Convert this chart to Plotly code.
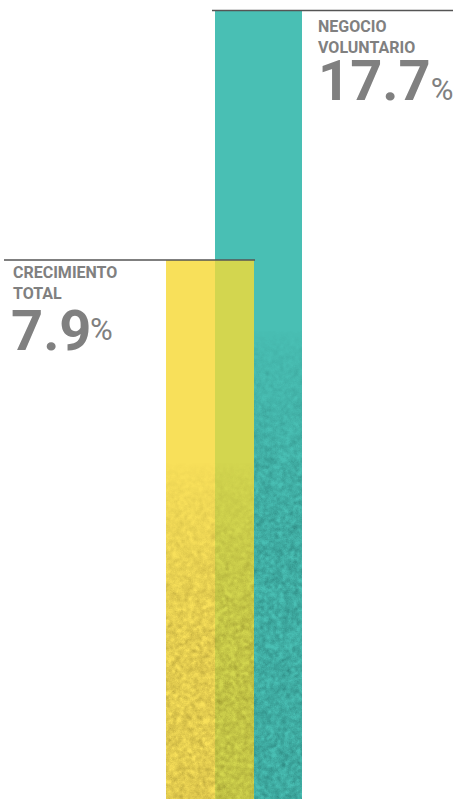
import base64
import struct
import zlib

import numpy as np
import plotly.graph_objects as go

# ---- data ----
categories = ["CRECIMIENTO TOTAL", "NEGOCIO VOLUNTARIO"]
values = [7.9, 17.7]
value_labels = ["7.9", "17.7"]
bar_colors = ["#F8E05A", "#49BFB4"]
overlap_color = "#D3D64F"

W, H = 453, 799

# ---- geometry (pixels) ----
cx = [210.0, 258.5]          # bar centres in px
ppu = cx[1] - cx[0]          # px per category unit
x_lo = -cx[0] / ppu
x_hi = x_lo + W / ppu


def xd(px):
    return x_lo + px / ppu


# y scale: value 17.7 at px 10.5, 7.9 at px 260
py_hi, py_lo = 10.5, 260.0
upp = (values[1] - values[0]) / (py_lo - py_hi)
y_top = values[1] + py_hi * upp
y_bot = values[1] - (H - py_hi) * upp
BASE = y_bot - 1


def val_to_px(v):
    return py_hi + (values[1] - v) / upp


# ---- grain / shade texture (decoration only) ----
def png_uri(arr):
    h, w, _ = arr.shape
    raw = b"".join(b"\x00" + arr[i].tobytes() for i in range(h))

    def chunk(t, d):
        return (struct.pack(">I", len(d)) + t + d +
                struct.pack(">I", zlib.crc32(t + d) & 0xFFFFFFFF))

    png = (b"\x89PNG\r\n\x1a\n" +
           chunk(b"IHDR", struct.pack(">IIBBBBB", w, h, 8, 6, 0, 0, 0)) +
           chunk(b"IDAT", zlib.compress(raw, 9)) + chunk(b"IEND", b""))
    return "data:image/png;base64," + base64.b64encode(png).decode()


rng = np.random.default_rng(7)


def smooth_noise(h, w):
    n = rng.normal(0, 1, (h, w))
    for _ in range(2):
        acc = np.zeros_like(n)
        for dy in (-1, 0, 1):
            for dx in (-1, 0, 1):
                acc += np.roll(np.roll(n, dy, 0), dx, 1)
        n = acc / 9
    fine = rng.normal(0, 1, (h, w))
    n = n / n.std() * 0.8 + fine * 0.35
    return n


def shade(w_px, h_px, top_px, ramp_start, ramp_end, a_max, rgb):
    ys = top_px + np.arange(h_px)
    prof = np.clip((ys - ramp_start) / (ramp_end - ramp_start), 0, 1)
    alpha = a_max * (0.4 * prof + 0.6 * prof ** 0.5)
    n = smooth_noise(h_px, w_px)
    a = alpha[:, None] * (1 + 0.5 * n)
    a = np.clip(a, 0, 1)
    arr = np.zeros((h_px, w_px, 4), dtype=np.uint8)
    arr[..., 0], arr[..., 1], arr[..., 2] = rgb
    arr[..., 3] = (a * 255).astype(np.uint8)
    return png_uri(arr)


fig = go.Figure()

# teal bar (drawn first)
fig.add_trace(go.Bar(
    x=[1], y=[values[1] - BASE], base=BASE,
    width=87 / ppu, marker=dict(color=bar_colors[1], line_width=0),
    hoverinfo="skip", showlegend=False))
# yellow bar
fig.add_trace(go.Bar(
    x=[0], y=[values[0] - BASE], base=BASE,
    width=88 / ppu, marker=dict(color=bar_colors[0], line_width=0),
    hoverinfo="skip", showlegend=False))
# overlap region (yellow over teal)
ov_l, ov_r = 215, 254
fig.add_trace(go.Bar(
    x=[0], y=[values[0] - BASE], base=BASE,
    offset=(ov_l - cx[0]) / ppu, width=(ov_r - ov_l) / ppu,
    marker=dict(color=overlap_color, line_width=0),
    hoverinfo="skip", showlegend=False))

# shading textures over the lower part of the bars
top_px = val_to_px(values[0])
h_img = int(round(H - top_px))
fig.add_layout_image(
    source=shade(88, h_img, top_px, 462, 640, 0.12, (70, 55, 0)),
    xref="x", yref="y", x=xd(166), y=values[0], sizex=88 / ppu,
    sizey=values[0] - y_bot, xanchor="left", yanchor="top",
    sizing="stretch", layer="above")
fig.add_layout_image(
    source=shade(48, h_img, top_px, 330, 520, 0.13, (0, 45, 45)),
    xref="x", yref="y", x=xd(254), y=values[0], sizex=48 / ppu,
    sizey=values[0] - y_bot, xanchor="left", yanchor="top",
    sizing="stretch", layer="above")

# rule lines at the bar tops
line_spans = [(4, 255), (212, 453)]
for v, (a, b) in zip(values, line_spans):
    fig.add_shape(type="line", xref="x", yref="y",
                  x0=xd(a), x1=xd(b), y0=v, y1=v,
                  line=dict(color="#555555", width=1.5), layer="above")

grey = "#808080"
font_fam = "Roboto, Liberation Sans, Arial, sans-serif"

# category labels (two lines each)
label_x = [14, 319]
label_shift = [-3, -6]
for i in range(2):
    fig.add_annotation(
        x=xd(label_x[i] - 1), y=values[i], xref="x", yref="y",
        xanchor="left", yanchor="top", yshift=label_shift[i],
        text="<br>".join(categories[i].split(" ")), showarrow=False,
        align="left", borderpad=0, borderwidth=0,
        font=dict(family=font_fam, size=16, color=grey, weight="bold"))

# big numbers
# left: number with raised percent sign
fig.add_annotation(
    x=xd(11), y=values[0], xref="x", yref="y",
    xanchor="left", yanchor="top", yshift=-38, showarrow=False,
    text=value_labels[0], borderpad=0, borderwidth=0,
    font=dict(family=font_fam, size=56, color=grey, weight="bold"))
fig.add_annotation(
    x=xd(90), y=values[0], xref="x", yref="y",
    xanchor="left", yanchor="top", yshift=-51, showarrow=False,
    text="%", borderpad=0, borderwidth=0,
    font=dict(family=font_fam, size=31, color=grey, weight="normal"))
# right: number with baseline percent sign
fig.add_annotation(
    x=xd(318), y=values[1], xref="x", yref="y",
    xanchor="left", yanchor="top", yshift=-37, showarrow=False,
    text="<b>" + value_labels[1] + "</b><span style='font-size:31px'>%</span>",
    borderpad=0, borderwidth=0,
    font=dict(family=font_fam, size=56, color=grey, weight="normal"))

fig.update_layout(
    width=W, height=H,
    margin=dict(l=0, r=0, t=0, b=0),
    paper_bgcolor="white", plot_bgcolor="white",
    barmode="overlay", bargap=0,
    xaxis=dict(range=[x_lo, x_hi], visible=False, fixedrange=True),
    yaxis=dict(range=[y_bot, y_top], visible=False, fixedrange=True),
)

fig.write_html("out.html", config={"displayModeBar": False},
               post_script="document.body.style.margin='0';")
